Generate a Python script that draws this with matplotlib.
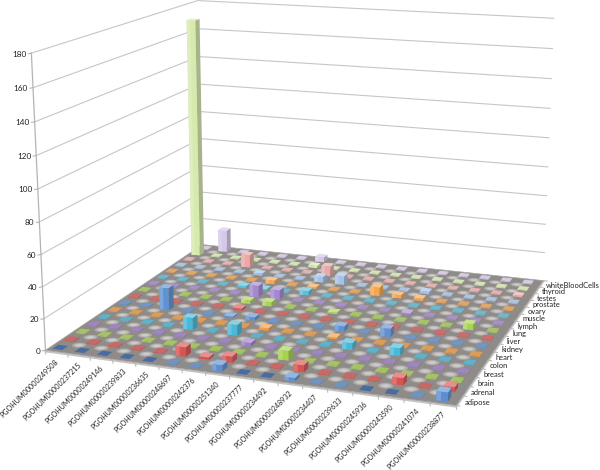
import numpy as np
import matplotlib
matplotlib.use('Agg')
import matplotlib.pyplot as plt
from matplotlib.patches import Polygon

plt.rcParams['font.family'] = ['Lato', 'DejaVu Sans']

genes = ['PGOHUM00000249508', 'PGOHUM00000237215', 'PGOHUM00000249146', 'PGOHUM00000239833',
         'PGOHUM00000236635', 'PGOHUM00000248697', 'PGOHUM00000242376', 'PGOHUM00000251340',
         'PGOHUM00000237777', 'PGOHUM00000234492', 'PGOHUM00000248932', 'PGOHUM00000234407',
         'PGOHUM00000239633', 'PGOHUM00000245936', 'PGOHUM00000243590', 'PGOHUM00000241074',
         'PGOHUM00000238877']
tissues = ['adipose', 'adrenal', 'brain', 'breast', 'colon', 'heart', 'kidney', 'liver', 'lung',
           'lymph', 'muscle', 'ovary', 'prostate', 'testes', 'thyroid', 'whiteBloodCells']
z_ticks = [0, 20, 40, 60, 80, 100, 120, 140, 160, 180]

# one line per tissue, one value per gene
adipose  = [0, 0, 0, 0, 0, .4, .4, 4, 0, 0, 2, .4, .4, 0, 0, .4, 5.5]
adrenal  = [.5, .5, .5, .5, .5, 6, 1.5, 4, .5, .5, 4.5, .5, .5, .5, 4.5, .5, 3]
brain    = [.5, .5, .5, .5, .5, .5, .5, .5, .5, 6, .5, .5, .5, .5, .5, .5, .5]
breast   = [.5, .5, .5, .5, .5, .5, .5, 2.2, .5, .5, .5, .5, .5, .5, .5, .5, .5]
colon    = [.5, .5, .5, .5, 8, .5, 7, .5, .5, .5, .5, 4.5, .5, 5, .5, .5, .5]
heart    = [.5, .5, .5, .5, .5, .5, .5, 1.6, .5, .5, 1, .5, .5, .5, .5, .5, .5]
kidney   = [.5, .5, 15, .5, .5, 1, 2.3, .5, .5, .5, 3.5, .5, 5.5, .5, .5, .5, .5]
liver    = [.5, .5, .5, .5, .5, 1.6, .5, .5, .5, .5, .5, .5, .5, .5, .5, .5, .5]
lung     = [.5, .5, .5, .5, .5, 2.3, 3, .5, .5, 1, .5, .5, .5, .5, .5, 4, .5]
lymph    = [.5, .5, .5, .5, .5, 8, 6.5, .5, .5, .5, .5, .5, 1, .5, .5, .5, .5]
muscle   = [.5, .5, .5, .5, 1.5, 1, .5, 3, .5, .5, .5, .5, .5, .5, .5, .5, .5]
ovary    = [.5, .5, .5, .5, .5, 2.5, .5, 1, .5, .5, 6, 2.3, 1.6, .5, .5, .5, .5]
prostate = [.5, .5, .5, .5, 1.5, .5, .5, 4, 6, .5, .5, .5, 1.7, .5, .5, .5, .5]
testes   = [.5, .5, .5, 9, .5, .5, .5, 7, .5, .5, .5, .5, .5, .5, .5, .5, 1]
thyroid  = [170, .5, .5, .5, .5, .5, 1.5, .5, .5, .5, .5, .5, .5, .5, .5, .5, .5]
blood    = [.5, 16, .5, .5, .5, .5, 3.6, .5, .5, .5, .5, .5, .5, .5, .5, .5, .5]
values = [adipose, adrenal, brain, breast, colon, heart, kidney, liver, lung, lymph, muscle,
          ovary, prostate, testes, thyroid, blood]

series_colors = ['#5b8fd2', '#d9524f', '#a6d24e', '#9a7ccb', '#45b8d8', '#f59a35']

# where the box corners sit on the picture, the camera matrix comes out of these
box_world = [(0, 0, 0), (1, 0, 0), (0, 1, 0), (1, 1, 0), (0, 0, 1), (0, 1, 1), (1, 1, 1)]
box_pixel = [(45, 350), (456, 406), (203, 245), (543, 280), (32, 53), (197, 0.5), (554, 18.5)]
z_max = 180
n_genes = len(genes)
n_rows = len(tissues)

rows = []
for (X, Y, Z), (u, v) in zip(box_world, box_pixel):
    rows.append([X, Y, Z, 1, 0, 0, 0, 0, -u * X, -u * Y, -u * Z, -u])
    rows.append([0, 0, 0, 0, X, Y, Z, 1, -v * X, -v * Y, -v * Z, -v])
camera = np.linalg.svd(np.array(rows, float))[2][-1].reshape(3, 4)


def project(g, r, z):
    # g and r in cell units, z in data units
    h = camera @ np.array([g / n_genes, r / n_rows, z / z_max, 1.0])
    return h[0] / h[2], h[1] / h[2]


def mix(color, other, t):
    a = np.array(matplotlib.colors.to_rgb(color))
    b = np.array(matplotlib.colors.to_rgb(other))
    return tuple(a * (1 - t) + b * t)


def area(pts):
    p = np.array(pts)
    return 0.5 * np.sum(p[:, 0] * np.roll(p[:, 1], -1) - np.roll(p[:, 0], -1) * p[:, 1])


fig = plt.figure(figsize=(6, 4.7), dpi=100)
ax = fig.add_axes([0, 0, 1, 1])
ax.set_xlim(0, 600)
ax.set_ylim(470, 0)
ax.axis('off')

# walls
wall = '#c6c6c6'
for t in z_ticks[1:]:
    a, b, c = project(0, 0, t), project(0, n_rows, t), project(n_genes, n_rows, t)
    ax.plot([a[0], b[0], c[0]], [a[1], b[1], c[1]], color=wall, lw=0.8, zorder=1)
a, b = project(0, 0, 0), project(0, 0, z_max)
ax.plot([a[0], b[0]], [a[1], b[1]], color='#b4b4b4', lw=0.9, zorder=1)
for t in z_ticks:
    x, y = project(0, 0, t)
    ax.plot([x - 3, x], [y + 0.5, y], color='#b4b4b4', lw=0.8, zorder=1)
    ax.text(x - 5, y + 1, str(t), ha='right', va='center', fontsize=5.9, color='#222222')

# floor with the soft light dots
corners = [project(0, 0, 0), project(n_genes, 0, 0), project(n_genes, n_rows, 0), project(0, n_rows, 0)]
edge = [project(0, 0, 0), project(n_genes, 0, 0), project(n_genes, n_rows, 0)]
ax.plot([p[0] for p in edge], [p[1] + 1 for p in edge], color='#c4c4c4', lw=1.6, zorder=2)
ax.add_patch(Polygon(corners, closed=True, fc='#8f8b89', ec='#a8a5a3', lw=0.5, zorder=2))
angles = np.linspace(0, 2 * np.pi, 14)
for i in range(n_genes + 1):
    for j in range(n_rows + 1):
        for rad in (0.3, 0.22, 0.14):
            if i + rad > n_genes or j + rad > n_rows or i < rad or j < rad:
                continue
            ring = [project(i + rad * np.cos(t), j + rad * np.sin(t), 0) for t in angles]
            ax.add_patch(Polygon(ring, closed=True, fc='white', ec='none', alpha=0.24, zorder=2))

# ticks on the floor edges
for i in range(n_genes + 1):
    x, y = project(i, 0, 0)
    ax.plot([x, x + 0.5], [y, y + 4], color='#b4b4b4', lw=0.7, zorder=2)
for j in range(n_rows + 1):
    x, y = project(n_genes, j, 0)
    ax.plot([x, x + 4], [y, y + 0.5], color='#b4b4b4', lw=0.7, zorder=2)

# bars, back rows first so the front ones sit on top
fade_rows = [0, 8, 9, 11, 12, 15]
fade_amount = [0, 0.04, 0.1, 0.12, 0.45, 0.58]
half_x = 0.22
half_y = 0.25
offset = -0.1
order = 3
for r in range(n_rows - 1, -1, -1):
    base = series_colors[r % len(series_colors)]
    fade = np.interp(r, fade_rows, fade_amount)
    for g in range(n_genes):
        v = values[r][g]
        x0, x1 = g + 0.5 + offset - half_x, g + 0.5 + offset + half_x
        y0, y1 = r + 0.5 - half_y, r + 0.5 + half_y
        front = mix(base, 'white', fade)
        if v == 0:
            top = mix(mix(base, '#1e2c46', 0.35), 'white', fade)
        elif v < 1:
            top = mix(mix(base, '#a09c9a', 0.3), 'white', fade)
        else:
            top = mix(mix(base, 'white', 0.35), 'white', fade)
        side = mix(front, '#2a2a2a', 0.28)
        faces = [([(x0, y0), (x1, y0)], front), ([(x1, y0), (x1, y1)], side), ([(x0, y1), (x0, y0)], side)]
        if v > 0:
            for (p, q), col in faces:
                poly = [project(p[0], p[1], 0), project(q[0], q[1], 0), project(q[0], q[1], v), project(p[0], p[1], v)]
                if area(poly) > 0:
                    continue
                ax.add_patch(Polygon(poly, closed=True, fc=col, ec='none', zorder=order))
                # lighter strip down the left of the front face
                if col is front and v >= 2:
                    mid = p[0] + (q[0] - p[0]) * 0.4
                    strip = [project(p[0], p[1], 0), project(mid, p[1], 0), project(mid, p[1], v), project(p[0], p[1], v)]
                    ax.add_patch(Polygon(strip, closed=True, fc=mix(col, 'white', 0.18), ec='none', zorder=order))
        lid = [project(x0, y0, v), project(x1, y0, v), project(x1, y1, v), project(x0, y1, v)]
        ax.add_patch(Polygon(lid, closed=True, fc=top, ec='none', zorder=order))
        order += 0.001

# axis labels
for g, name in enumerate(genes):
    x, y = project(g + 0.5, 0, 0)
    ax.text(x + 1, y + 9, name, rotation=45, ha='right', va='center', rotation_mode='anchor',
            fontsize=5.1, color='#222222')
for r, name in enumerate(tissues):
    x, y = project(n_genes, r + 0.5, 0)
    ax.text(x + 5, y + 1.5, name, ha='left', va='center', fontsize=5.4, color='#222222')

fig.savefig('out.png', dpi=100)
